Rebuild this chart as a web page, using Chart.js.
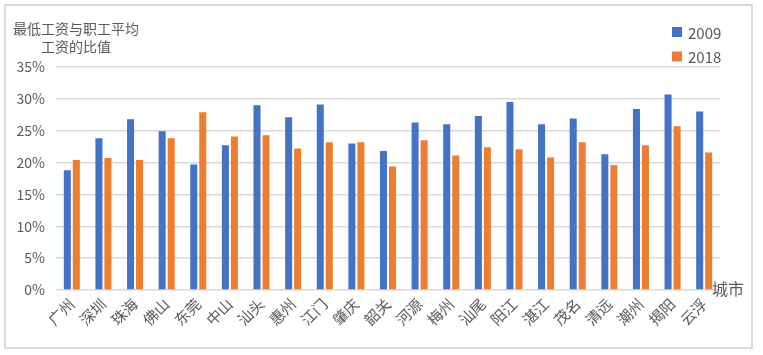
<!DOCTYPE html>
<html>
<head>
<meta charset="utf-8">
<script src="https://cdn.jsdelivr.net/npm/chart.js@4"></script>
<style>
html,body{margin:0;padding:0;background:#fff;}
#wrap{position:relative;width:763px;height:355px;}
</style>
</head>
<body>
<div id="wrap"><canvas id="c" width="763" height="355"></canvas></div>
<script>
const cities = ["广州","深圳","珠海","佛山","东莞","中山","汕头","惠州","江门","肇庆","韶关","河源","梅州","汕尾","阳江","湛江","茂名","清远","潮州","揭阳","云浮"];
const values2009 = [18.8,23.8,26.8,24.9,19.7,22.7,29.0,27.1,29.1,23.0,21.8,26.3,26.0,27.3,29.5,26.0,26.9,21.3,28.4,30.7,28.0];
const values2018 = [20.4,20.7,20.4,23.8,27.9,24.1,24.3,22.2,23.2,23.2,19.4,23.5,21.1,22.4,22.1,20.8,23.2,19.6,22.7,25.7,21.6];
const yTicks = [0,5,10,15,20,25,30,35];
const titleLines = ["最低工资与职工平均","工资的比值"];
const xAxisTitle = "城市";
const seriesNames = ["2009","2018"];

const BLUE = "#4472C4", ORANGE = "#ED7D31", GRID = "#d9d9d9", TXT = "#595959";
const FONT = "'Noto Sans CJK SC', 'Noto Sans', sans-serif";

const decor = {
  id: "decor",
  beforeDraw(chart) {
    const ctx = chart.ctx;
    ctx.save();
    ctx.fillStyle = "#fff";
    ctx.fillRect(0, 0, chart.width, chart.height);
    ctx.strokeStyle = GRID;
    ctx.lineWidth = 2;
    ctx.strokeRect(5, 5, 747, 343);
    ctx.restore();
  },
  afterDraw(chart) {
    const ctx = chart.ctx;
    ctx.save();
    ctx.fillStyle = TXT;
    ctx.font = "14px " + FONT;
    ctx.textAlign = "center";
    ctx.textBaseline = "middle";
    ctx.fillText(titleLines[0], 76, 29);
    ctx.fillText(titleLines[1], 76, 47);
    ctx.font = "15px " + FONT;
    ctx.textAlign = "left";
    chart.data.datasets.forEach((ds, i) => {
      const cy = 32 + i * 24.5;
      ctx.fillStyle = ds.backgroundColor;
      ctx.fillRect(672, cy - 5, 10, 10);
      ctx.fillStyle = TXT;
      ctx.fillText(ds.label, 688, cy + 1);
    });
    ctx.font = "16px " + FONT;
    ctx.textAlign = "left";
    ctx.fillText(xAxisTitle, 712, 289);
    ctx.restore();
  }
};

new Chart(document.getElementById("c"), {
  type: "bar",
  data: {
    labels: cities,
    datasets: [
      { label: seriesNames[0], data: values2009, backgroundColor: BLUE },
      { label: seriesNames[1], data: values2018, backgroundColor: ORANGE }
    ]
  },
  options: {
    responsive: false,
    animation: false,
    devicePixelRatio: 1,
    layout: { padding: { top: 67, right: 43, left: 0, bottom: 0 } },
    plugins: { legend: { display: false }, title: { display: false }, tooltip: { enabled: false } },
    datasets: { bar: { categoryPercentage: 0.57, barPercentage: 0.78 } },
    scales: {
      x: {
        grid: { display: false, drawTicks: false },
        border: { display: false },
        ticks: {
          autoSkip: false, maxRotation: 45, minRotation: 45, padding: 5,
          color: TXT, font: { size: 15, family: FONT }
        },
        afterFit(scale) { scale.height = 65; }
      },
      y: {
        min: 0, max: 35,
        grid: { color: GRID, lineWidth: 1.5, drawTicks: false },
        border: { display: false },
        afterBuildTicks(scale) { scale.ticks = yTicks.map(v => ({ value: v })); },
        ticks: {
          padding: 11, color: TXT, font: { size: 14, family: FONT },
          callback: v => v + "%"
        },
        afterFit(scale) { scale.width = 56; }
      }
    }
  },
  plugins: [decor]
});
</script>
</body>
</html>
